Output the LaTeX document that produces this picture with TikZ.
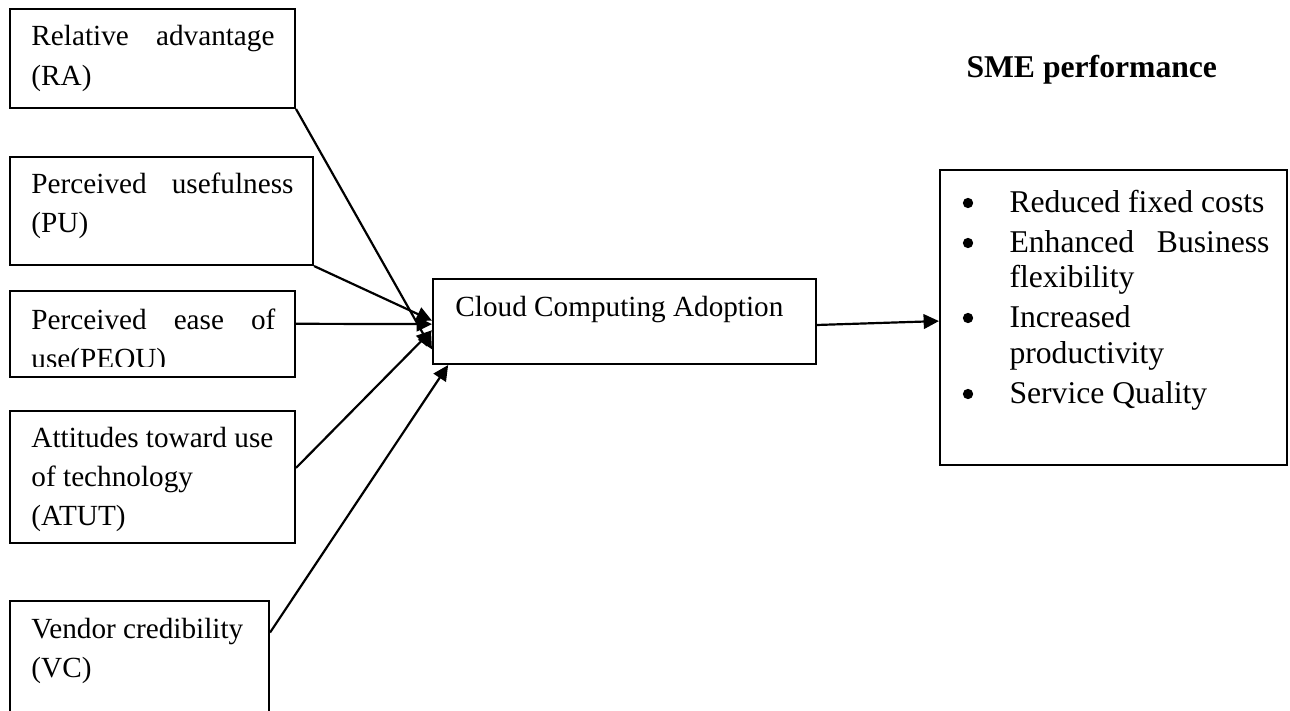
\documentclass[tikz,border=0pt]{standalone}
\usepackage{fontspec}
\setmainfont{Liberation Serif}
\usetikzlibrary{arrows.meta,fit,calc}
\begin{document}
\begin{tikzpicture}[x=0.41068pt,y=-0.41068pt,
  box/.style={draw, line width=0.85pt, inner sep=0pt},
  lbl/.style={anchor=base west, inner sep=0pt, font=\fontsize{12}{14}\selectfont},
  rlbl/.style={anchor=base west, inner sep=0pt, font=\fontsize{13}{15}\selectfont},
  blt/.style={circle, draw=black, fill=black, line width=0.4pt, inner sep=0pt, minimum size=3.8pt},
  conn/.style={line width=0.9pt, -{Triangle[length=6.3pt,width=6pt]}}]
\useasboundingbox (0,0) rectangle (1290,710);
\clip (0,0) rectangle (1290,710);

% left boxes
\node[box, fit={(10,9) (295,108)}] (RA) {};
\node[box, fit={(10,157) (313,265)}] (PU) {};
\node[box, fit={(10,291) (295,377)}] (PEOU) {};
\node[box, fit={(10,411) (295,543)}] (ATUT) {};
\node[box, fit={(10,601) (269,722)}] (VC) {};

% centre and right boxes
\node[box, fit={(433,279) (816,364)}] (cloud) {};
\node[box, fit={(940,170) (1287,465)}] (sme) {};

% left texts
\node[lbl] (tRA1) at (31,45) {\makebox[99.8pt][s]{Relative advantage}};
\node[lbl] (tRA2) at (31,85) {(RA)};
\node[lbl] (tPU1) at (31,193) {\makebox[107.6pt][s]{Perceived usefulness}};
\node[lbl] (tPU2) at (31,232) {(PU)};
\node[lbl] (tPE1) at (31,329) {\makebox[100.2pt][s]{Perceived ease of}};
\begin{scope}
\clip (0,291) rectangle (300,366);
\node[lbl] (tPE2) at (31,368) {use(PEOU)};
\end{scope}
\node[lbl] (tAT1) at (31,447) {Attitudes toward use};
\node[lbl] (tAT2) at (31,486) {of technology};
\node[lbl] (tAT3) at (31,525) {(ATUT)};
\node[lbl] (tVC1) at (31,638) {Vendor credibility};
\node[lbl] (tVC2) at (31,677) {(VC)};

% centre text
\node[lbl] (tCL) at (455,316) {Cloud Computing Adoption};

% right texts
\node[rlbl, font=\fontsize{13}{15}\selectfont\bfseries] (title) at (966,77) {SME performance};
\node[blt] (b1) at (968,203) {};
\node[rlbl] (s1) at (1009,212) {Reduced fixed costs};
\node[blt] (b2) at (968,243) {};
\node[rlbl] (s2) at (1009,252) {\makebox[106.8pt][s]{Enhanced Business}};
\node[rlbl] (s2b) at (1009,287) {flexibility};
\node[blt] (b3) at (968,318) {};
\node[rlbl] (s3) at (1009,327) {Increased};
\node[rlbl] (s3b) at (1009,363) {productivity};
\node[blt] (b4) at (968,394) {};
\node[rlbl] (s4) at (1009,403) {Service Quality};

% connectors
\draw[conn] (RA.south east) -- ($(cloud.north west)!0.82!(cloud.south west)$);
\draw[conn] (PU.south east) -- ($(cloud.north west)!0.49!(cloud.south west)$);
\draw[conn] ($(PEOU.north east)!0.384!(PEOU.south east)$) -- ($(cloud.north west)!0.53!(cloud.south west)$);
\draw[conn] ($(ATUT.north east)!0.432!(ATUT.south east)$) -- ($(cloud.north west)!0.6!(cloud.south west)$);
\draw[conn] ($(VC.north east)!0.265!(VC.south east)$) -- ($(cloud.south west)!0.042!(cloud.south east)$);
\draw[conn] ($(cloud.north east)!0.54!(cloud.south east)$) -- ($(sme.north west)!0.512!(sme.south west)$);
\end{tikzpicture}
\end{document}
